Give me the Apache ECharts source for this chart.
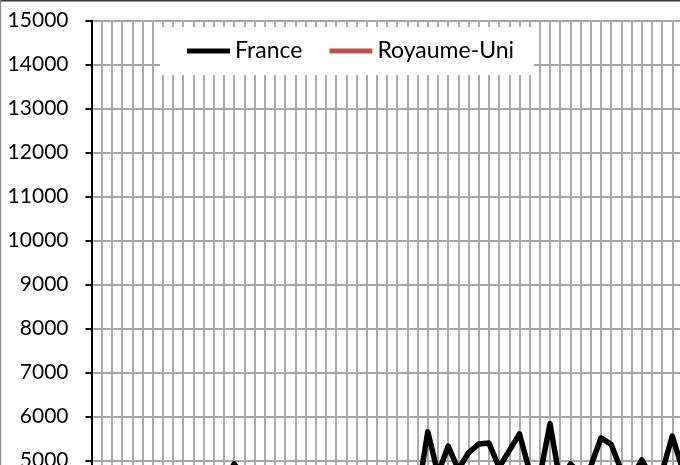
<!DOCTYPE html>
<html>
<head>
<meta charset="utf-8">
<script src="https://cdn.jsdelivr.net/npm/echarts@6/dist/echarts.min.js"></script>
<style>
html,body{margin:0;padding:0;background:#fff;overflow:hidden;width:680px;height:465px;}
#chart{width:740px;height:730px;position:absolute;left:0;top:0;}
</style>
</head>
<body>
<div id="chart"></div>
<script>
const categories = ['1','2','3','4','5','6','7','8','9','10','11','12','13','14','15','16','17','18','19','20',
  '21','22','23','24','25','26','27','28','29','30','31','32','33','34','35','36','37','38','39','40',
  '41','42','43','44','45','46','47','48','49','50','51','52','53','54','55','56','57','58','59','60','61','62'];

const france = [4300,4350,4200,4400,4500,4300,4450,4600,4400,4550,
  4350,4500,4650,4450,4930,4600,4400,4500,4300,4450,
  4600,4350,4500,4400,4300,4550,4450,4600,4400,4500,
  4350,4450,4200,5660,4700,5330,4800,5180,5380,5400,
  4850,5230,5610,4750,4650,5840,4500,4925,4700,4880,
  5520,5370,4770,4600,5020,4600,4750,5560,4800,4700,
  4900,4650];

const royaumeUni = [3100,3150,3050,3200,3250,3150,3300,3350,3200,3300,
  3250,3400,3350,3300,3450,3400,3350,3500,3450,3400,
  3550,3500,3450,3600,3550,3500,3650,3600,3550,3700,
  3650,3600,3750,3900,3700,3850,3750,3800,3900,3850,
  3800,3950,4000,3850,3900,4100,3950,4000,3900,4050,
  4150,4050,3950,4000,4100,3950,4050,4200,4000,3950,
  4100,4000];

const yTicks = {min: 0, max: 15000, interval: 1000};

const chart = echarts.init(document.getElementById('chart'), null, {renderer: 'canvas'});
const spacing = 10.19;
chart.setOption({
  animation: false,
  backgroundColor: '#ffffff',
  textStyle: {fontFamily: 'Lato'},
  graphic: [
    {type: 'rect', left: 0, top: 0, shape: {width: 740, height: 1.5}, style: {fill: '#3a3a3a'}, z: 100},
    {type: 'rect', left: 0, top: 0, shape: {width: 1.2, height: 730}, style: {fill: '#8a8a8a'}, z: 100}
  ],
  legend: {
    left: 160,
    top: 27,
    padding: [11, 20, 11, 27],
    backgroundColor: '#ffffff',
    icon: 'rect',
    itemWidth: 43,
    itemHeight: 5,
    itemGap: 27,
    textStyle: {fontFamily: 'Lato', fontSize: 23, color: '#000', lineHeight: 26},
    data: ['France', 'Royaume-Uni']
  },
  grid: {
    left: 91.5,
    top: 20.7,
    width: (categories.length - 1) * spacing,
    height: 660,
    containLabel: false
  },
  xAxis: {
    type: 'category',
    data: categories,
    boundaryGap: false,
    axisLine: {show: true, lineStyle: {color: '#000', width: 2}},
    axisTick: {show: true, interval: 0, length: 6, lineStyle: {color: '#000', width: 2}},
    axisLabel: {show: true, fontFamily: 'Lato', fontSize: 21, color: '#000'},
    splitLine: {show: true, interval: 0, lineStyle: {color: '#ababab', width: 2}}
  },
  yAxis: {
    type: 'value',
    min: yTicks.min,
    max: yTicks.max,
    interval: yTicks.interval,
    axisLine: {show: true, lineStyle: {color: '#000', width: 2}},
    axisTick: {show: true, length: 6, lineStyle: {color: '#000', width: 2}},
    axisLabel: {fontFamily: 'Lato', fontSize: 21, color: '#000', margin: 23, formatter: function (v) { return String(v); }},
    splitLine: {show: true, lineStyle: {color: '#a6a6a6', width: 2}}
  },
  series: [
    {
      name: 'France',
      type: 'line',
      data: france,
      symbol: 'none',
      color: '#000000',
      lineStyle: {color: '#000000', width: 5.5, join: 'round', cap: 'round'},
      z: 3
    },
    {
      name: 'Royaume-Uni',
      type: 'line',
      data: royaumeUni,
      symbol: 'none',
      color: '#C0504D',
      lineStyle: {color: '#C0504D', width: 5.5, join: 'round', cap: 'round'},
      z: 4
    }
  ]
});
</script>
</body>
</html>
